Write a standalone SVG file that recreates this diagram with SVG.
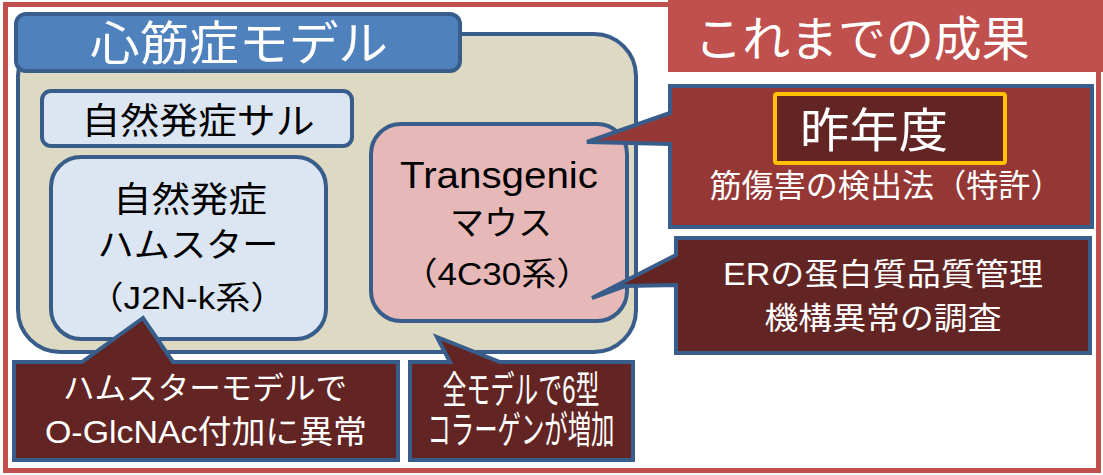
<svg xmlns="http://www.w3.org/2000/svg" width="1103" height="475" viewBox="0 0 1103 475">
<style>
text{font-family:"Liberation Sans","Noto Sans CJK JP",sans-serif;text-anchor:middle}
.w{fill:#FFFFFF}
.k{fill:#000000}
.box{stroke:#385D8A;stroke-width:4;stroke-linejoin:round}
.call{fill:#632523;stroke:#385D8A;stroke-width:4;stroke-linejoin:miter}
</style>
<rect x="5.5" y="4.5" width="1093" height="466" fill="#FFFFFF" stroke="#C0504D" stroke-width="5"/>
<g id="title">
<rect x="668" y="0" width="435" height="72" fill="#C0504D"/>
<text class="w" x="862" y="56" font-size="48" textLength="335" lengthAdjust="spacingAndGlyphs">これまでの成果</text>
</g>
<g id="model-group">
<rect class="box" x="18" y="34" width="618" height="318" rx="42" fill="#DDD9C3"/>
</g>
<g id="model-header">
<rect class="box" x="16" y="14" width="444" height="57" rx="10" fill="#4F81BD"/>
<text class="w" x="239" y="60" font-size="47" textLength="298" lengthAdjust="spacingAndGlyphs">心筋症モデル</text>
</g>
<g id="monkey">
<rect class="box" x="42" y="91" width="310" height="55" rx="9" fill="#DCE6F2"/>
<text class="k" x="198" y="134" font-size="36" textLength="233" lengthAdjust="spacingAndGlyphs">自然発症サル</text>
</g>
<g id="hamster">
<rect class="box" x="51" y="157" width="275" height="182" rx="30" fill="#DCE6F2"/>
<text class="k" x="190" y="212" font-size="35" textLength="154" lengthAdjust="spacingAndGlyphs">自然発症</text>
<text class="k" x="188" y="257" font-size="34" textLength="181" lengthAdjust="spacingAndGlyphs">ハムスター</text>
<text class="k" x="187" y="309" font-size="32" textLength="197" lengthAdjust="spacingAndGlyphs">（J2N-k系）</text>
</g>
<g id="mouse">
<rect class="box" x="371" y="124" width="256" height="197" rx="30" fill="#E6B9B8"/>
<text class="k" x="499" y="188" font-size="36" textLength="198" lengthAdjust="spacingAndGlyphs">Transgenic</text>
<text class="k" x="501" y="235" font-size="34" textLength="102" lengthAdjust="spacingAndGlyphs">マウス</text>
<text class="k" x="497" y="285" font-size="32" textLength="189" lengthAdjust="spacingAndGlyphs">（4C30系）</text>
</g>
<g id="connectors">
<g id="callout-lastyear">
<path class="call" style="fill:#953735" d="M670,86 H1092 V227 H670 V144 L587,142 L670,113 Z"/>
<rect x="775" y="94" width="230" height="69" rx="2" fill="#632523" stroke="#FFC000" stroke-width="4"/>
<text class="w" x="874" y="147" font-size="47" textLength="148" lengthAdjust="spacingAndGlyphs">昨年度</text>
<text class="w" x="886" y="197" font-size="32" textLength="353" lengthAdjust="spacingAndGlyphs">筋傷害の検出法（特許）</text>
</g>
<g id="callout-er">
<path class="call" d="M676,238 H1090 V353 H676 V285 L625,286 L592,298 L676,255 Z"/>
<text class="w" x="883" y="285" font-size="31" textLength="320" lengthAdjust="spacingAndGlyphs">ERの蛋白質品質管理</text>
<text class="w" x="883" y="329" font-size="31" textLength="237" lengthAdjust="spacingAndGlyphs">機構異常の調査</text>
</g>
<g id="callout-hamster">
<path class="call" d="M14,362 H82 L143,318 L173,362 H398 V460 H14 Z"/>
<text class="w" x="205" y="399" font-size="31" textLength="284" lengthAdjust="spacingAndGlyphs">ハムスターモデルで</text>
<text class="w" x="206" y="443" font-size="32" textLength="322" lengthAdjust="spacingAndGlyphs">O-GlcNAc付加に異常</text>
</g>
<g id="callout-all">
<path class="call" d="M410,362 H450 L437,337 L500,362 H633 V460 H410 Z"/>
<text class="w" x="521" y="403" font-size="38" textLength="157" lengthAdjust="spacingAndGlyphs">全モデルで6型</text>
<text class="w" x="521" y="443" font-size="38" textLength="187" lengthAdjust="spacingAndGlyphs">コラーゲンが増加</text>
</g>
</g>
</svg>
